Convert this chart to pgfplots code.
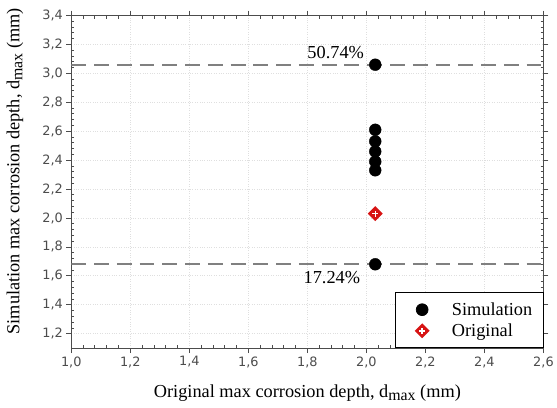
\documentclass[border=0pt]{standalone}
\usepackage{fontspec}
\setmainfont{Liberation Serif}
\newfontfamily\tickfont{DejaVu Sans}
\usepackage{pgfplots}
\pgfplotsset{compat=1.18}
\definecolor{dashgray}{gray}{0.5}
\definecolor{axgray}{gray}{0.3}
\definecolor{origred}{RGB}{215,20,20}
\pgfdeclareplotmark{dplus}{%
  \pgfpathmoveto{\pgfqpoint{0pt}{\pgfplotmarksize}}%
  \pgfpathlineto{\pgfqpoint{\pgfplotmarksize}{0pt}}%
  \pgfpathlineto{\pgfqpoint{0pt}{-\pgfplotmarksize}}%
  \pgfpathlineto{\pgfqpoint{-\pgfplotmarksize}{0pt}}%
  \pgfpathclose
  \pgfsetfillcolor{origred}\pgfusepathqfill
  \pgfsetstrokecolor{white}\pgfsetlinewidth{1.4pt}%
  \pgfpathmoveto{\pgfqpoint{-0.4\pgfplotmarksize}{0pt}}%
  \pgfpathlineto{\pgfqpoint{0.4\pgfplotmarksize}{0pt}}%
  \pgfpathmoveto{\pgfqpoint{0pt}{-0.4\pgfplotmarksize}}%
  \pgfpathlineto{\pgfqpoint{0pt}{0.4\pgfplotmarksize}}%
  \pgfusepathqstroke
}
\newcommand{\dmax}{d\raisebox{-0.35ex}{\fontsize{16}{16}\selectfont max}}
\begin{document}
\begin{tikzpicture}
\begin{axis}[
  name=ax, scale only axis, width=477pt, height=336pt,
  xmin=1, xmax=2.6, ymin=1.1, ymax=3.4,
  xtick={1,1.2,1.4,1.6,1.8,2.0,2.2,2.4,2.6},
  ytick={1.2,1.4,1.6,1.8,2.0,2.2,2.4,2.6,2.8,3.0,3.2,3.4},
  minor x tick num=4, minor y tick num=4,
  tick align=outside, major tick length=5pt, minor tick length=-3pt,
  axis line style={axgray, line width=0.9pt},
  every tick/.style={axgray, line width=0.8pt},
  grid=major, major grid style={dotted, gray!25, line width=0.8pt},
  tick label style={font=\tickfont\fontsize{13}{14}\selectfont, text=black!70},
  /pgf/number format/use comma,
  /pgf/number format/fixed,
  /pgf/number format/fixed zerofill,
  /pgf/number format/precision=1,
  /pgf/number format/assume math mode=true,
  label style={font=\fontsize{18.5}{21}\selectfont},
  xlabel={Original max corrosion depth, \dmax{} (mm)},
  ylabel={Simulation max corrosion depth, \dmax{} (mm)},
  xlabel style={at={(axis description cs:0.5,-0.135)}, anchor=center},
  ylabel style={at={(axis description cs:-0.119,0.532)}, anchor=center},
  legend style={at={(rel axis cs:1,0)}, anchor=south east, draw=black, line width=0.7pt,
    font=\fontsize{18.5}{20}\selectfont, inner xsep=9pt, inner ysep=8pt, row sep=3pt},
  legend cell align=left,
  legend image code/.code={\draw[#1, draw=none, mark repeat=2, mark phase=2] plot coordinates {(0pt,0pt)(18pt,0pt)(46pt,0pt)};},
]
\addplot[dashgray, line width=1.7pt, dash pattern=on 15pt off 8pt, forget plot] coordinates {(1,3.06)(2.6,3.06)};
\addplot[dashgray, line width=1.7pt, dash pattern=on 15pt off 8pt, forget plot] coordinates {(1,1.68)(2.6,1.68)};
\addplot[draw=none, mark=*, mark size=6pt, mark options={draw=none, fill=black}] coordinates {
  (2.03,3.06) (2.03,2.61) (2.03,2.53) (2.03,2.46) (2.03,2.39) (2.03,2.33) (2.03,1.68)};
\addlegendentry{Simulation}
\addplot[draw=none, mark=dplus, mark size=7.5pt] coordinates {(2.03,2.03)};
\addlegendentry{Original}
\node[font=\fontsize{18.5}{20}\selectfont] at (axis cs:1.896,3.145) {50.74\%};
\node[font=\fontsize{18.5}{20}\selectfont] at (axis cs:1.883,1.59) {17.24\%};
\end{axis}
\path (ax.south west) ++(-72pt,-60.3pt);
\path (ax.north east) ++(8pt,15.7pt);
\end{tikzpicture}
\end{document}
